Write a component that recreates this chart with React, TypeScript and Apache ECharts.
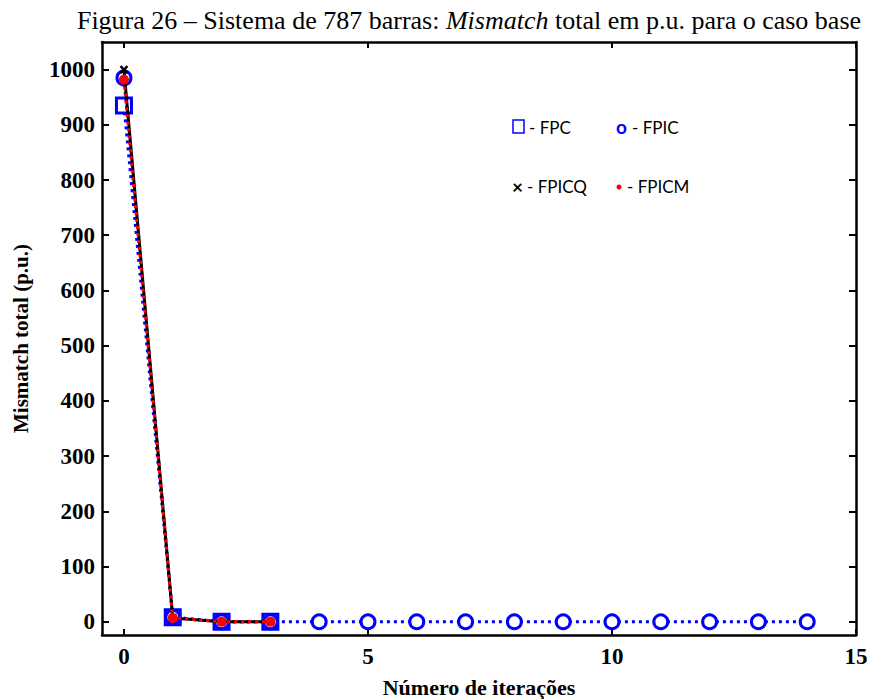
import React, { useEffect, useRef } from "react";
import * as echarts from "echarts";

const iterFPC = [0, 1, 2, 3];
const valFPC = [935, 8, 0, 0];
const iterFPIC = [0, 1, 2, 3, 4, 5, 6, 7, 8, 9, 10, 11, 12, 13, 14];
const valFPIC = [985, 8, 0, 0, 0, 0, 0, 0, 0, 0, 0, 0, 0, 0, 0];
const iterFPICQ = [0, 1, 2, 3];
const valFPICQ = [1000, 7, 0, 0];
const iterFPICM = [0, 1, 2, 3];
const valFPICM = [982, 7, 0, 0];
const xTicks = [0, 5, 10, 15];
const yTicks = [0, 100, 200, 300, 400, 500, 600, 700, 800, 900, 1000];

const pairs = (xs: number[], ys: number[]) => xs.map((x, i) => [x, ys[i]]);

const serif = "'Liberation Serif', 'Times New Roman', serif";
const sans = "Lato, 'Open Sans', 'Liberation Sans', sans-serif";

export default function App() {
  const ref = useRef<HTMLDivElement>(null);
  useEffect(() => {
    if (!ref.current) return;
    const chart = echarts.init(ref.current, undefined, { renderer: "svg" });
    const axisLine = { show: true, onZero: false, lineStyle: { color: "#000", width: 2.5 } };
    const xBase = {
      type: "value" as const,
      min: -0.45,
      max: 15,
      splitLine: { show: false },
      axisLine,
      axisTick: { show: true, inside: true, length: 6, lineStyle: { color: "#000", width: 2 }, customValues: xTicks },
    };
    const yBase = {
      type: "value" as const,
      min: -24,
      max: 1050,
      splitLine: { show: false },
      axisLine,
      axisTick: { show: true, inside: true, length: 7, lineStyle: { color: "#000", width: 2 }, customValues: yTicks },
    };
    const labelStyle = { fontFamily: serif, fontSize: 23, fontWeight: "bold", color: "#000" };
    const option: any = {
      animation: false,
      backgroundColor: "#fff",
      title: {
        text: "{n|Figura 26 – Sistema de 787 barras: }{i|Mismatch}{n| total em p.u. para o caso base}",
        left: 464,
        textAlign: "center",
        top: 2,
        textStyle: {
          fontFamily: serif,
          fontSize: 26,
          fontWeight: "normal",
          color: "#000",
          rich: {
            n: { fontFamily: serif, fontSize: 26, color: "#000" },
            i: { fontFamily: serif, fontSize: 26, fontStyle: "italic", color: "#000" },
          },
        },
      },
      grid: { left: 102, top: 42, right: 13, bottom: 64, containLabel: false, outerBoundsMode: "none" },
      xAxis: [
        {
          ...xBase,
          position: "bottom",
          name: "Número de iterações",
          nameLocation: "middle",
          nameGap: 41,
          nameTextStyle: { ...labelStyle, fontSize: 22 },
          axisLabel: {
            show: true,
            customValues: xTicks,
            margin: 10,
            formatter: (v: number) => String(v),
            ...labelStyle,
          },
        },
        { ...xBase, position: "top", axisLabel: { show: false } },
      ],
      yAxis: [
        {
          ...yBase,
          position: "left",
          name: "Mismatch total (p.u.)",
          nameLocation: "middle",
          nameGap: 71,
          nameTextStyle: { ...labelStyle, fontSize: 21 },
          axisLabel: {
            show: true,
            customValues: yTicks,
            margin: 7,
            formatter: (v: number) => String(v),
            ...labelStyle,
          },
        },
        { ...yBase, position: "right", axisLabel: { show: false } },
      ],
      series: [
        {
          name: "FPC",
          type: "line",
          xAxisIndex: 0,
          yAxisIndex: 0,
          data: pairs(iterFPC, valFPC),
          symbol: "rect",
          symbolSize: 15,
          itemStyle: { color: "#fff", borderColor: "#0000ff", borderWidth: 3 },
          lineStyle: { color: "#0000ff", width: 3, type: [3, 4] },
          z: 2,
        },
        {
          name: "FPIC",
          type: "line",
          xAxisIndex: 0,
          yAxisIndex: 0,
          data: pairs(iterFPIC, valFPIC),
          symbol: "circle",
          symbolSize: 14,
          itemStyle: { color: "#fff", borderColor: "#0000ff", borderWidth: 3 },
          lineStyle: { color: "#0000ff", width: 3, type: [3, 4] },
          z: 3,
        },
        {
          name: "FPICQ",
          type: "line",
          xAxisIndex: 0,
          yAxisIndex: 0,
          data: pairs(iterFPICQ, valFPICQ),
          symbol: "path://M0,0L10,10M10,0L0,10",
          symbolSize: 7,
          itemStyle: { color: "#000", borderColor: "#000", borderWidth: 2.5 },
          lineStyle: { color: "#000", width: 3 },
          z: 4,
        },
        {
          name: "FPICM",
          type: "line",
          xAxisIndex: 0,
          yAxisIndex: 0,
          data: pairs(iterFPICM, valFPICM),
          symbol: "circle",
          symbolSize: 10,
          itemStyle: { color: "#ff0000", borderWidth: 0 },
          lineStyle: { color: "#ff0000", width: 3, type: [3, 4] },
          z: 5,
        },
      ],
      graphic: [
        { type: "rect", shape: { x: 513, y: 120, width: 11, height: 13 }, style: { fill: "#fff", stroke: "#0000ff", lineWidth: 1.5 } },
        { type: "text", x: 529, y: 127, style: { text: "- FPC", font: `17px ${sans}`, fill: "#000", verticalAlign: "middle" } },
        { type: "text", x: 616, y: 126, style: { text: "o", font: `bold 19px ${sans}`, fill: "#0000ff", verticalAlign: "middle" } },
        { type: "text", x: 632, y: 127, style: { text: "- FPIC", font: `17px ${sans}`, fill: "#000", verticalAlign: "middle" } },
        { type: "text", x: 512, y: 186, style: { text: "×", font: `bold 19px ${sans}`, fill: "#000", verticalAlign: "middle" } },
        { type: "text", x: 527, y: 186, style: { text: "- FPICQ", font: `17px ${sans}`, fill: "#000", verticalAlign: "middle" } },
        { type: "circle", shape: { cx: 619, cy: 187, r: 2.5 }, style: { fill: "#ff0000" } },
        { type: "text", x: 627, y: 186, style: { text: "- FPICM", font: `17px ${sans}`, fill: "#000", verticalAlign: "middle" } },
      ],
    };
    chart.setOption(option);
    return () => chart.dispose();
  }, []);
  return <div ref={ref} style={{ position: "absolute", left: 0, top: 0, width: 869, height: 699 }} />;
}
